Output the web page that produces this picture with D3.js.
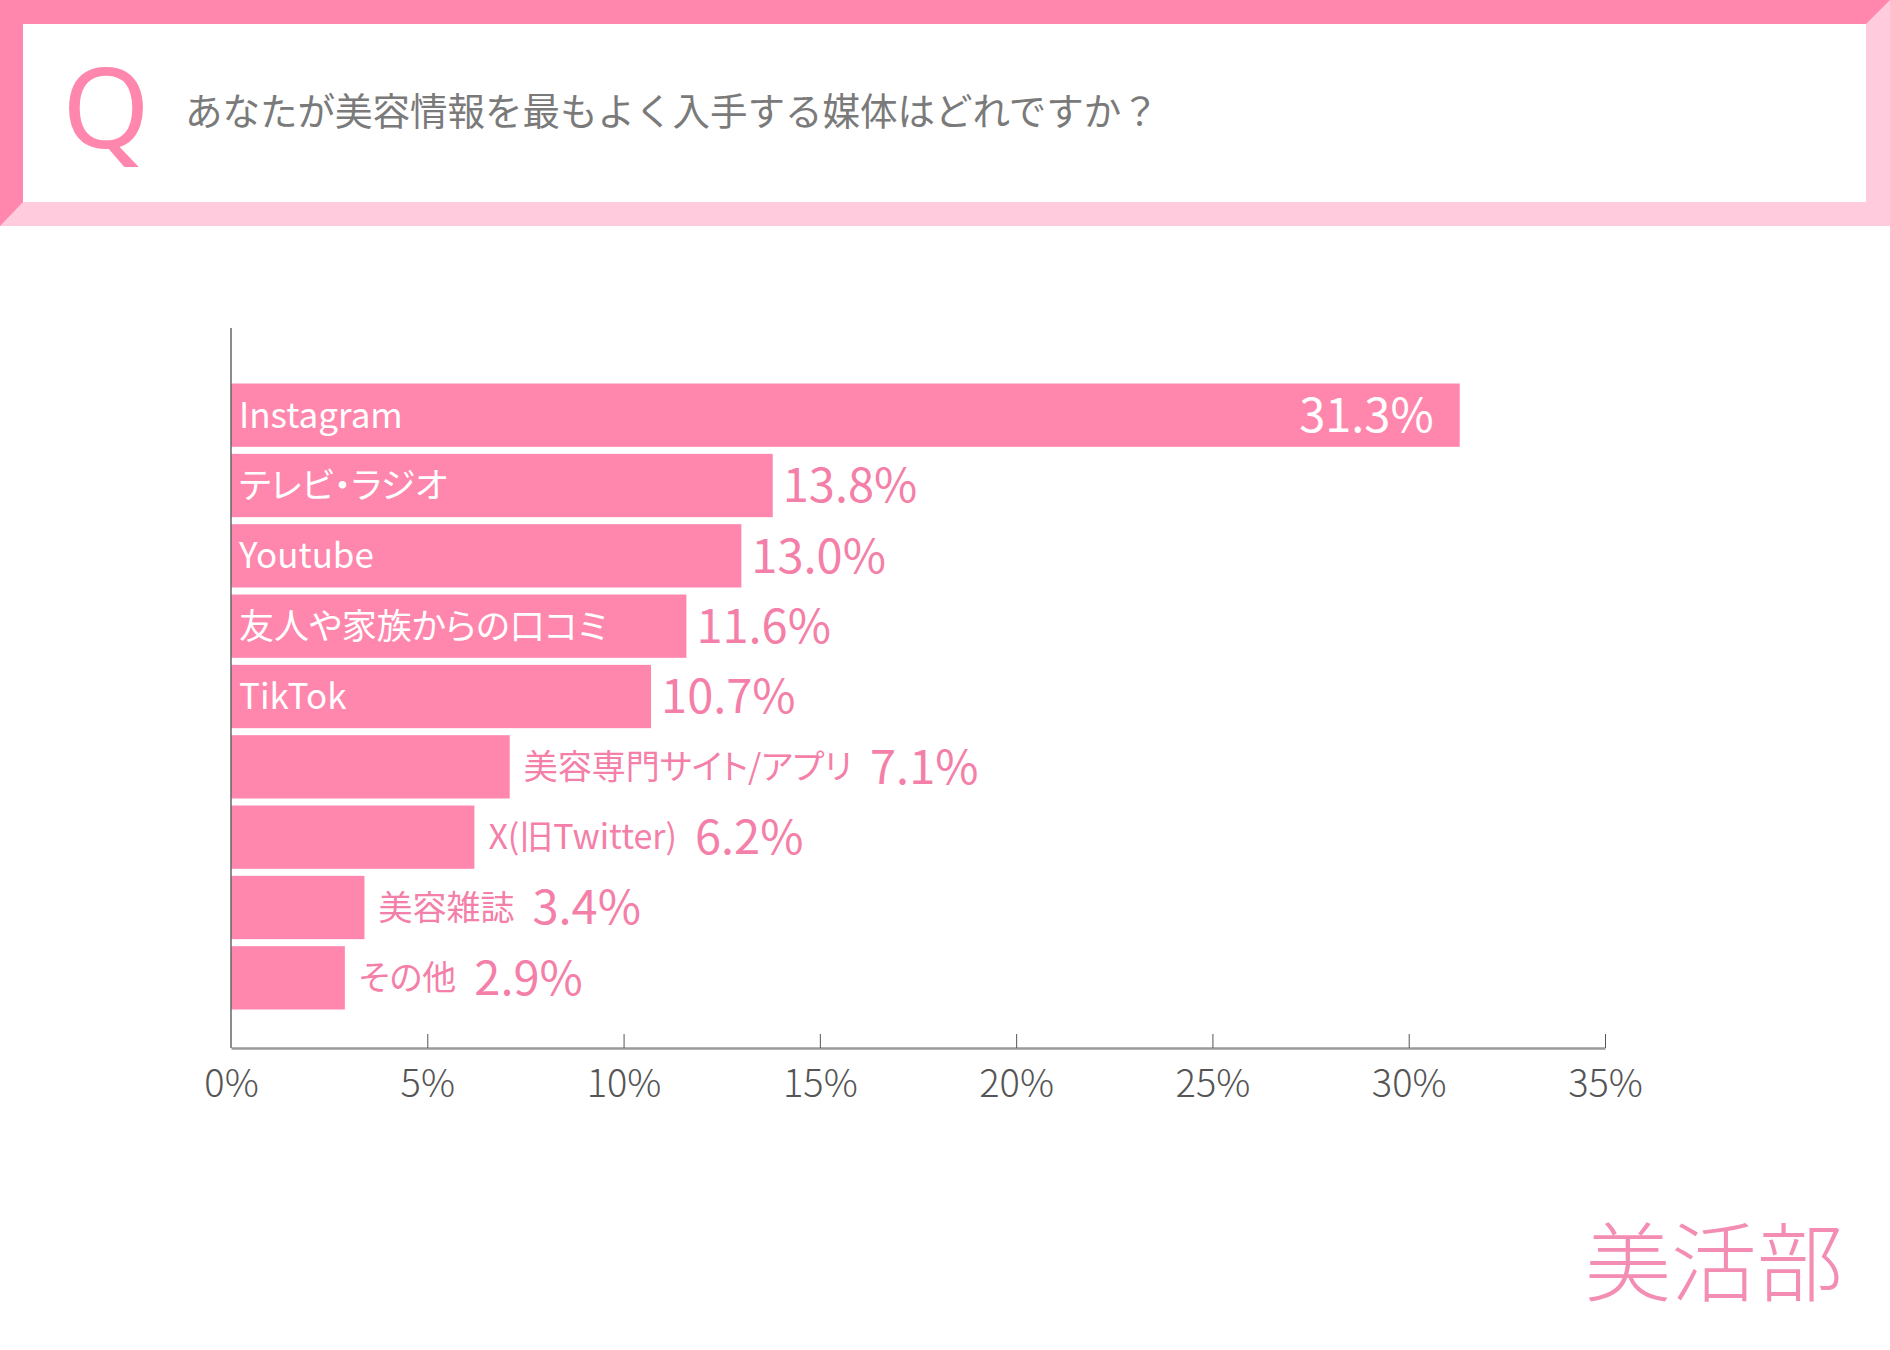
<!DOCTYPE html>
<html lang="ja">
<head>
<meta charset="utf-8">
<script src="https://cdn.jsdelivr.net/npm/d3@7"></script>
<style>
  html, body { margin: 0; padding: 0; background: #fff; }
  svg { display: block; font-family: "Noto Sans CJK JP", "Noto Sans", sans-serif; font-feature-settings: "palt"; }
</style>
</head>
<body>
<div id="chart"></div>
<script>
// ---- data ----
const categories = ['Instagram', 'テレビ・ラジオ', 'Youtube', '友人や家族からの口コミ', 'TikTok',
  '美容専門サイト/アプリ', 'X(旧Twitter)', '美容雑誌', 'その他'];
const values = [31.3, 13.8, 13.0, 11.6, 10.7, 7.1, 6.2, 3.4, 2.9];
const tickValues = [0, 5, 10, 15, 20, 25, 30, 35];
const title = 'あなたが美容情報を最もよく入手する媒体はどれですか？';
const brand = '美活部';

const W = 1890, H = 1350;
const PINK = '#ff87ad', PINK_LIGHT = '#ffcbdd', PINK_TEXT = '#f47fa8';

const rows = categories.map((c, i) => ({ cat: c, value: values[i] }));
const maxVal = d3.max(values);

const svg = d3.select('#chart').append('svg').attr('width', W).attr('height', H);
svg.append('rect').attr('width', W).attr('height', H).attr('fill', '#fff');

// header frame: light pink base, darker top/left, white inside
const hdr = svg.append('g');
hdr.append('rect').attr('x', 0).attr('y', 0).attr('width', W).attr('height', 226).attr('fill', PINK_LIGHT);
hdr.append('polygon')
  .attr('points', [[0, 0], [W, 0], [W - 24, 24], [23, 24], [23, 202], [0, 226]].map(p => p.join(',')).join(' '))
  .attr('fill', PINK);
hdr.append('rect').attr('x', 23).attr('y', 24).attr('width', W - 24 - 23).attr('height', 178).attr('fill', '#fff');
hdr.append('text').attr('x', 106).attr('y', 148).attr('text-anchor', 'middle')
  .attr('font-size', 112).attr('font-weight', 400).attr('fill', PINK)
  .style('font-family', '"Noto Sans", sans-serif')
  .text('Q');
hdr.append('text').attr('x', 185).attr('y', 125)
  .attr('font-size', 37.5).attr('font-weight', 400).attr('fill', '#7a7a7a')
  .style('font-feature-settings', 'normal')
  .text(title);

// scales
const x = d3.scaleLinear().domain([0, 35]).range([231, 1605]);
const y = d3.scaleBand().domain(categories).range([380, 1013]).paddingInner(0.1).paddingOuter(0.05);
const axisY = 1048, axisTop = 328;

// bars
const g = svg.append('g');
g.selectAll('rect.bar').data(rows).enter().append('rect')
  .attr('class', 'bar')
  .attr('x', x(0)).attr('y', d => y(d.cat))
  .attr('width', d => x(d.value) - x(0)).attr('height', y.bandwidth())
  .attr('fill', PINK);

// labels: inside the bar when there is room, else after it in pink
rows.forEach(d => {
  const cy = y(d.cat) + y.bandwidth() / 2;
  const barW = x(d.value) - x(0);
  const lab = g.append('text').attr('y', cy).attr('dy', '0.36em')
    .attr('font-size', 35).attr('font-weight', 400)
    .text(d.cat);
  const lw = lab.node().getComputedTextLength();
  const inside = lw + 70 < barW;
  let endX;
  if (inside) {
    lab.attr('x', x(0) + 8).attr('fill', '#fff');
    endX = x(d.value) + 10;
  } else {
    lab.attr('x', x(d.value) + 14).attr('fill', PINK_TEXT).attr('font-size', 34);
    endX = x(d.value) + 14 + lab.node().getComputedTextLength() + 18;
  }
  const val = g.append('text').attr('y', cy).attr('dy', '0.36em')
    .attr('font-size', 47).attr('font-weight', 400)
    .text(d3.format('.1f')(d.value) + '%');
  if (d.value === maxVal) {
    val.attr('x', x(d.value) - 26).attr('text-anchor', 'end').attr('fill', '#fff');
  } else {
    val.attr('x', endX).attr('fill', PINK_TEXT);
  }
});

// axes
svg.append('line')
  .attr('x1', x(0)).attr('x2', x(0)).attr('y1', axisTop).attr('y2', axisY)
  .attr('stroke', '#666').attr('stroke-width', 1.5);

const xAxis = svg.append('g').attr('transform', `translate(0,${axisY})`)
  .call(d3.axisBottom(x).tickValues(tickValues).tickSizeInner(-14).tickSizeOuter(0)
    .tickFormat(d => d + '%'));
xAxis.select('.domain').attr('stroke', '#9a9a9a').attr('stroke-width', 2.5);
xAxis.selectAll('.tick line').attr('stroke', '#555').attr('stroke-width', 1)
  .filter(d => d === 0).remove();
xAxis.selectAll('.tick text')
  .attr('y', 49).attr('dy', 0)
  .attr('font-size', 38).attr('font-weight', 300)
  .attr('fill', '#555')
  .style('font-family', '"Noto Sans CJK JP", sans-serif');

// brand
svg.append('text').attr('x', 1843).attr('y', 1295).attr('text-anchor', 'end')
  .attr('font-size', 86).attr('font-weight', 300).attr('fill', '#f48db4')
  .text(brand);
</script>
</body>
</html>
